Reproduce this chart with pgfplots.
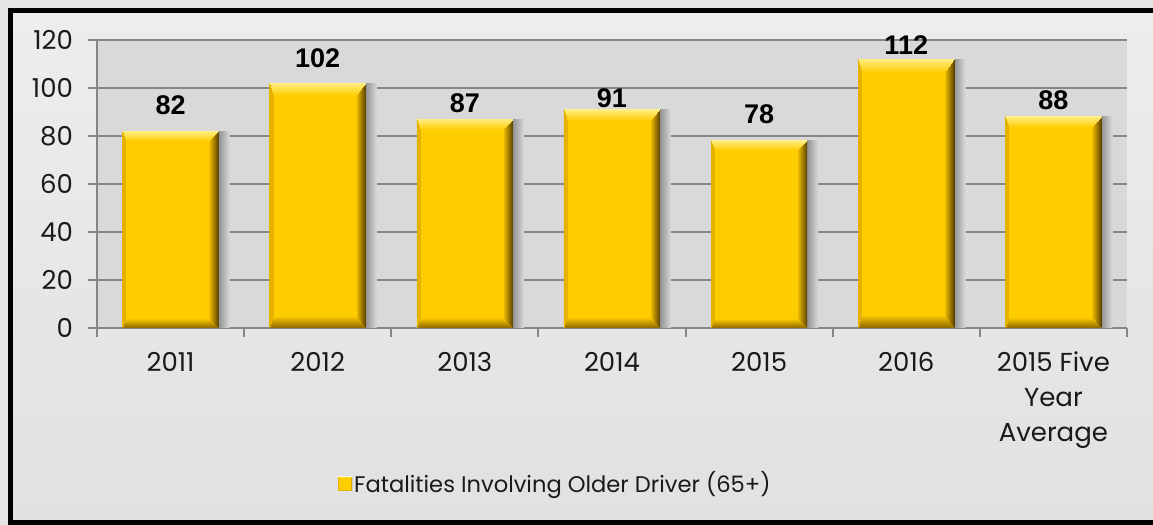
\documentclass[border=0pt]{standalone}
\usepackage{fontspec}
\setmainfont{Poppins}
\newfontfamily\labfont{Liberation Sans}
\usepackage{pgfplots}
\pgfplotsset{compat=1.18}

\definecolor{gridgray}{HTML}{868686}
\definecolor{plotbg}{HTML}{D9D9D9}
\definecolor{outerbg}{HTML}{E4E4E7}
\definecolor{bgtop}{HTML}{EDEDEF}
\definecolor{bgbot}{HTML}{E1E1E4}
\definecolor{shad}{HTML}{777777}
\definecolor{txt}{HTML}{1A1A1A}

% bevelled gold face for the bars (mitred bands: left, right, bottom, top)
\pgfdeclarefunctionalshading{bevel}{\pgfpointorigin}{\pgfpoint{100bp}{100bp}}{}{
 25 sub 50 div exch 25 sub 50 div exch
 exch dup 28 mul exch 1 exch sub 10 mul
 3 -1 roll dup 20 mul exch 1 exch sub 20 mul
 2 index 1 lt 3 index 2 index le and 3 index 3 index le and
 { pop pop exch pop dup 0.6 mul 0.35 add exch 0.5 mul 0.25 add 0 }
 { dup 1 lt 1 index 5 index le and
   { 4 1 roll pop pop pop 1 exch dup -0.13 mul 0.93 add exch -0.5 mul 0.5 add }
   { pop exch pop dup 1 lt 1 index 3 index le and
     { exch pop dup 0.45 mul 0.55 add exch 0.4 mul 0.4 add 0 }
     { pop 1 lt { 0.9 0.7 0 } { 1 0.8 0 } ifelse }
     ifelse }
   ifelse }
 ifelse
}
\pgfdeclarehorizontalshading{shadowsh}{100bp}{color(0bp)=(shad); color(67bp)=(shad); color(75bp)=(plotbg); color(100bp)=(plotbg)}

% one bar = its shadow + its face, so that each shading fits its own bar
\newcommand\goldbar[3]{%
  \addplot[shadowbar] coordinates {(#1,#2)};
  \addplot[facebar, every node near coord/.append style={yshift=#3pt}] coordinates {(#1,#2)};
}

\begin{document}
\begin{tikzpicture}
\useasboundingbox (0,0) rectangle (576.5pt,262.5pt);
\fill[outerbg] (0,0) rectangle (576.5pt,262.5pt);
\shade[top color=bgtop, bottom color=bgbot] (5.25pt,1.2pt) rectangle (590pt,257.3pt);
\draw[black, line width=2.3pt] (590pt,1.2pt) -- (5.25pt,1.2pt) -- (5.25pt,257.3pt) -- (590pt,257.3pt);
\begin{axis}[
  at={(48.5pt,98.5pt)}, anchor=south west,
  scale only axis, width=515pt, height=144pt,
  ybar,
  xmin=-0.5, xmax=6.5, ymin=0, ymax=120,
  enlarge x limits=false,
  ytick={0,20,...,120},
  xtick={0,...,6},
  xticklabels={2011,2012,2013,2014,2015,2016,{2015 Five\\Year\\Average}},
  minor xtick={-0.5,0.5,...,6.5},
  major x tick style={draw=none},
  axis x line*=bottom, axis y line*=left,
  axis line style={-, gridgray, line width=1pt},
  every tick/.style={gridgray, line width=1pt},
  tick align=outside,
  major tick length=4.5pt, minor tick length=4.5pt,
  ymajorgrids, grid style={gridgray, line width=1pt},
  axis background/.style={fill=plotbg},
  tick label style={font=\fontsize{13}{17.5}\selectfont, text=txt},
  xticklabel style={align=center, yshift=-4pt},
  yticklabel style={xshift=-4pt},
  /pgf/number format/assume math mode=true,
  legend style={at={(0.445,-0.54)}, anchor=center, draw=none, fill=none,
    font=\fontsize{11.3}{14}\selectfont, text=txt,
    nodes={inner xsep=1pt}},
  legend image code/.code={\path[#1, draw=none] (0pt,-3.5pt) rectangle (7pt,3.5pt);},
  shadowbar/.style={forget plot, bar width=48pt, bar shift=5.5pt, draw=none,
    shade, shading=shadowsh},
  facebar/.style={forget plot, bar width=48pt, bar shift=0pt, draw=none,
    shade, shading=bevel, nodes near coords,
    every node near coord/.append style={anchor=base,
      font=\labfont\bfseries\fontsize{13.5}{16}\selectfont, text=black}},
  clip=false,
]
\goldbar{0}{82}{8.5}
\goldbar{1}{102}{8}
\goldbar{2}{87}{3.5}
\goldbar{3}{91}{1.2}
\goldbar{4}{78}{8.5}
\goldbar{5}{112}{2.5}
\goldbar{6}{88}{3.5}
\addlegendimage{shade, shading=bevel}
\addlegendentry{Fatalities Involving Older Driver (65+)}
\end{axis}
\end{tikzpicture}
\end{document}
